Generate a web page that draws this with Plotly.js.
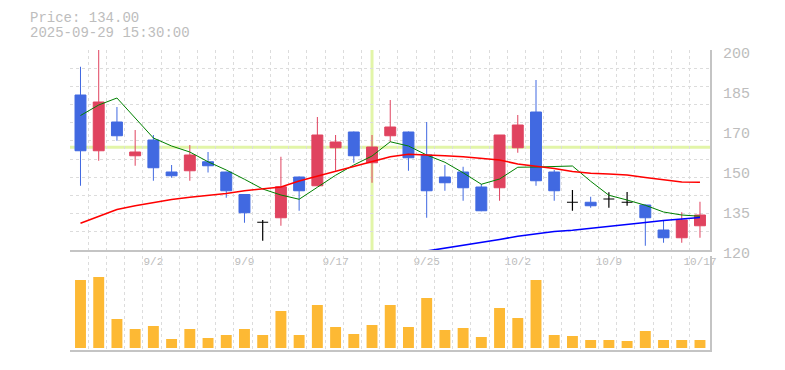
<!DOCTYPE html>
<html>
<head>
<meta charset="utf-8">
<script src="https://cdn.plot.ly/plotly-3.0.1.min.js"></script>
<style>html,body{margin:0;padding:0;background:#fff;}#chart{width:785px;height:370px;}</style>
</head>
<body>
<div id="chart"></div>
<script>
// ---- data ----
const dates = ['8/27','8/28','8/29','9/1','9/2','9/3','9/4','9/5','9/8','9/9',
  '9/10','9/11','9/12','9/16','9/17','9/18','9/19','9/22','9/24','9/25',
  '9/26','9/29','9/30','10/1','10/2','10/3','10/6','10/7','10/8','10/9',
  '10/10','10/14','10/15','10/16','10/17'];
const openP  = [182,159.7,171.2,157.7,164,151.2,151.7,155.3,151.2,142.2,
  131.1,132.9,149.2,145.7,160.9,167.2,154.9,165.7,167.2,158,
  149.2,151.2,145.2,144.9,160.9,175.2,151.2,139.1,139.1,140.4,
  139.1,138,128,124.9,129.7];
const highP  = [193.3,201,177.2,168,166,154,162,159.2,151.3,142.4,
  132,157.3,149.4,173.2,166,167.4,166,180,167.4,171.2,
  154,153.3,146.4,166,174,188,152,144,141.3,143.1,
  143.2,138.2,132,135.1,139.3];
const lowP   = [145.7,155.7,163.7,153.7,147.7,148.9,147.7,151,140.9,130.9,
  123.7,129.7,135.7,145.5,151.7,154.9,146.9,163.2,151.7,132.9,
  143.7,139.7,135.5,139.7,158.9,145.7,139.7,135.7,136.9,136.9,
  137.7,121.7,122.9,122.9,124.9];
const closeP = [159.7,179.2,165.7,159.2,152.9,149.7,158,153.7,143.7,134.9,
  131.1,145.3,143.7,166,163.2,157.7,161.2,169.2,156.9,143.7,
  146.9,144.9,135.7,166,170,147.7,143.7,139.1,137.7,140.4,
  139.1,132.9,124.9,132,134];
const volume = [68,71,29,19,22,9,19,10,13,19,
  13,37,13,43,21,14,23,43,21,50,
  18,20,11,40,30,68,13,12,8,8,
  7,17,8,8,8];
const maShort = [173.8,178,180.8,172.8,164.8,161.6,159.2,155.3,152,148.3,
  144.4,142,140.3,145.1,149.9,154,157.6,163.3,161.6,158,
  155.1,150.9,146.3,148.4,153.1,153.2,153.3,153.6,147.5,141.9,
  140,137.9,135.2,134,133.5];
const maMid = [130.7,133.6,136.2,137.7,139,140.2,141.1,141.8,142.6,143.7,
  144.3,145.2,147.6,149.6,151.6,153.6,155.6,157.3,158.3,158.1,
  157.7,157.3,156.8,156,154.4,153.6,152.6,151.4,150.7,150.4,
  150,149,148,147.2,147.1];
const maLong = [null,null,null,null,null,null,null,null,null,null,
  null,null,null,null,null,null,null,null,null,119.6,
  120.7,121.8,123.2,124.2,125.5,126.5,127.4,127.9,128.6,129.3,
  130,131,131.8,132.4,133];
const xTickIdx = [4,9,14,19,24,29,34];
const priceTickVals = [120,136,152,168,184,200];
const priceTickText = ['120','135','150','170','185','200'];
const infoPrice = 'Price: 134.00';
const infoTime = '2025-09-29 15:30:00';
const crossIdx = 16;
const crossPrice = 161.1;

// ---- build ----
const idx = dates.map((d, i) => i);
const isDoji = idx.map(i => openP[i] === closeP[i]);
const pick = (arr, want) => idx.filter(i => isDoji[i] === want).map(i => arr[i]);

const xRange = [-0.576, 34.55];
const yRange = [120, 200];
const gridX = []; for (let k = 0; k < 35; k++) gridX.push(xRange[0] + k);
const gridY = []; for (let k = 0; k <= 11; k++) gridY.push(yRange[0] + k * (yRange[1] - yRange[0]) / 11);

const RED = '#e0435f', BLUE = '#4169e1', GRID = '#dcdcdc', AX = '#c4c4c4', TXT = '#bdbdbd';
const MONO = 'Liberation Mono, DejaVu Sans Mono, monospace';
const minorGrid = vals => ({tickmode: 'array', tickvals: vals, ticks: '', showgrid: true,
  gridcolor: GRID, griddash: '3px,3px', gridwidth: 1});

const traces = [
  {type: 'bar', x: idx, y: volume, xaxis: 'x2', yaxis: 'y2', width: 0.6,
   marker: {color: '#fdb934', line: {width: 0}}, hoverinfo: 'skip'},
  {type: 'scatter', mode: 'lines', x: idx, y: maShort, line: {color: '#008000', width: 1}, hoverinfo: 'skip'},
  {type: 'scatter', mode: 'lines', x: idx, y: maMid, line: {color: '#ff0000', width: 1.6}, hoverinfo: 'skip'},
  {type: 'scatter', mode: 'lines', x: idx, y: maLong, line: {color: '#0000ff', width: 1.6}, hoverinfo: 'skip'},
  {type: 'candlestick', x: pick(idx, false), open: pick(openP, false), high: pick(highP, false),
   low: pick(lowP, false), close: pick(closeP, false), whiskerwidth: 0,
   increasing: {line: {color: RED, width: 1}, fillcolor: RED},
   decreasing: {line: {color: BLUE, width: 1}, fillcolor: BLUE}, hoverinfo: 'skip'},
  {type: 'candlestick', x: pick(idx, true), open: pick(openP, true), high: pick(highP, true),
   low: pick(lowP, true), close: pick(closeP, true), whiskerwidth: 0,
   increasing: {line: {color: '#000', width: 1.2}, fillcolor: '#000'},
   decreasing: {line: {color: '#000', width: 1.2}, fillcolor: '#000'}, hoverinfo: 'skip'}
];

const layout = {
  width: 785, height: 370,
  margin: {l: 70, r: 75, t: 50, b: 20, pad: 0},
  paper_bgcolor: '#fff', plot_bgcolor: '#fff',
  showlegend: false, hovermode: false, dragmode: false,
  boxgap: 0.4, boxgroupgap: 0,
  xaxis: {domain: [0, 1], anchor: 'y', range: xRange, tickmode: 'array',
    tickvals: xTickIdx, ticktext: xTickIdx.map(i => dates[i]), ticks: '', showgrid: false,
    tickfont: {family: MONO, size: 11, color: TXT}, minor: minorGrid(gridX),
    showline: true, linecolor: AX, linewidth: 2, zeroline: false, rangeslider: {visible: false}, fixedrange: true},
  xaxis2: {domain: [0, 1], anchor: 'y2', range: xRange, tickmode: 'array', tickvals: gridX,
    showticklabels: false, ticks: '', showgrid: true, gridcolor: GRID, griddash: '3px,3px', gridwidth: 1,
    showline: true, linecolor: AX, linewidth: 2, zeroline: false, fixedrange: true},
  yaxis: {domain: [0.33333, 1], anchor: 'x', side: 'right', range: yRange, tickmode: 'array',
    tickvals: priceTickVals, ticktext: priceTickText, ticks: '', showgrid: false,
    tickfont: {family: MONO, size: 15, color: TXT}, ticklabelstandoff: 8, ticklabelshift: 3,
    minor: minorGrid(gridY),
    showline: true, linecolor: AX, linewidth: 2, zeroline: false, fixedrange: true},
  yaxis2: {domain: [0, 0.31333], anchor: 'x2', side: 'right', range: [-2, 92], showgrid: false,
    showticklabels: false, ticks: '', showline: true, linecolor: AX, linewidth: 2, zeroline: false, fixedrange: true},
  shapes: [
    {type: 'line', layer: 'below', xref: 'x', yref: 'y domain', x0: crossIdx, x1: crossIdx, y0: 0, y1: 1,
     line: {color: '#e2f5a8', width: 3}},
    {type: 'line', layer: 'below', xref: 'x domain', yref: 'y', x0: 0, x1: 1, y0: crossPrice, y1: crossPrice,
     line: {color: '#e2f5a8', width: 3}}
  ],
  annotations: [
    {xref: 'paper', yref: 'paper', x: -0.0636, y: 1.1057, xanchor: 'left', yanchor: 'middle', showarrow: false,
     borderpad: 0, text: infoPrice, font: {family: MONO, size: 14, color: TXT}},
    {xref: 'paper', yref: 'paper', x: -0.0636, y: 1.0557, xanchor: 'left', yanchor: 'middle', showarrow: false,
     borderpad: 0, text: infoTime, font: {family: MONO, size: 14, color: TXT}}
  ]
};

Plotly.newPlot('chart', traces, layout, {staticPlot: true, displayModeBar: false});
</script>
</body>
</html>
